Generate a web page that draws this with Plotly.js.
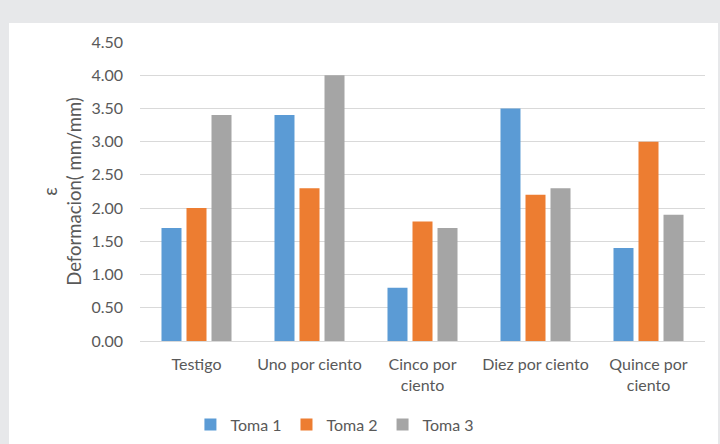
<!DOCTYPE html>
<html>
<head>
<meta charset="utf-8">
<script src="https://cdn.plot.ly/plotly-3.0.1.min.js"></script>
<style>
  html, body { margin: 0; padding: 0; width: 720px; height: 444px; background: #e7e8ea; overflow: hidden; }
  #chart { position: absolute; left: 9px; top: 23px; width: 709px; height: 421px; background: #ffffff; }
</style>
</head>
<body>
<div id="chart"></div>
<script>
const categories = ["Testigo", "Uno por ciento", "Cinco por<br>ciento", "Diez por ciento", "Quince por<br>ciento"];
const seriesNames = ["Toma 1", "Toma 2", "Toma 3"];
const toma1 = [1.7, 3.4, 0.8, 3.5, 1.4];
const toma2 = [2.0, 2.3, 1.8, 2.2, 3.0];
const toma3 = [3.4, 4.0, 1.7, 2.3, 1.9];
const colors = ["#5b9bd5", "#ed7d31", "#a5a5a5"];
const yTitle = "ε<br>Deformacion( mm/mm)";

const values = [toma1, toma2, toma3];
const data = values.map((v, i) => ({
  type: "bar",
  name: seriesNames[i],
  x: categories,
  y: v,
  marker: { color: colors[i] },
  hoverinfo: "none"
}));

const layout = {
  width: 709,
  height: 421,
  margin: { l: 131, r: 13, t: 19, b: 103, autoexpand: false },
  paper_bgcolor: "#ffffff",
  plot_bgcolor: "#ffffff",
  font: { family: "Lato, Open Sans, sans-serif", color: "#595959", size: 16 },
  barmode: "group",
  bargap: 0.336,
  bargroupgap: 0.2,
  showlegend: true,
  legend: {
    orientation: "h",
    x: 0.345, xanchor: "center",
    y: -0.28, yanchor: "middle",
    font: { size: 16, color: "#595959" },
    itemwidth: 30,
    traceorder: "normal"
  },
  xaxis: {
    type: "category",
    automargin: false,
    showgrid: false,
    showline: true,
    linecolor: "#d9d9d9",
    linewidth: 1,
    ticks: "",
    ticklabelstandoff: 9,
    tickfont: { size: 16, color: "#595959" },
    fixedrange: true
  },
  yaxis: {
    range: [0, 4.5],
    automargin: false,
    dtick: 0.5,
    tick0: 0,
    tickformat: ".2f",
    showgrid: true,
    gridcolor: "#d9d9d9",
    gridwidth: 1,
    zeroline: false,
    showline: false,
    ticks: "",
    ticklabelstandoff: 16,
    tickfont: { size: 16, color: "#595959" },
    title: { text: yTitle, font: { size: 18.5, color: "#595959" }, standoff: 4 },
    fixedrange: true
  }
};

Plotly.newPlot("chart", data, layout, { displayModeBar: false, staticPlot: true });
</script>
</body>
</html>
